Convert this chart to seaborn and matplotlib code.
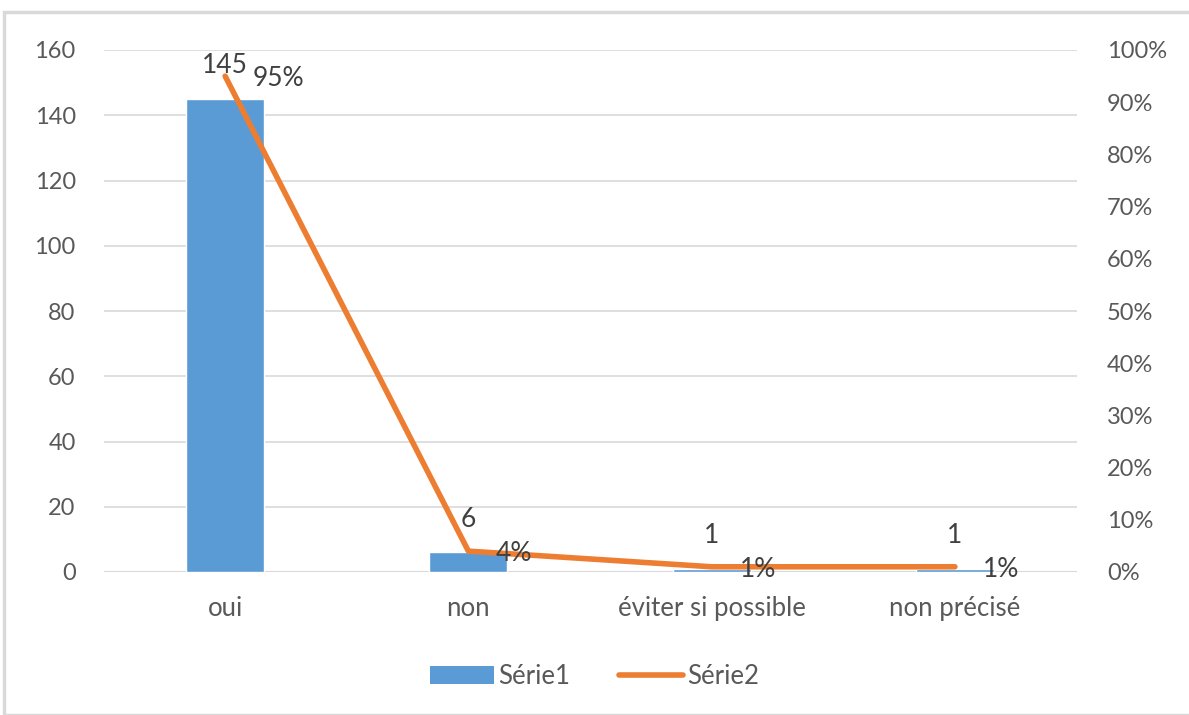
import matplotlib
matplotlib.use("Agg")
import matplotlib.pyplot as plt
import seaborn as sns
import numpy as np
import pandas as pd
from matplotlib.patches import Rectangle, Patch
from matplotlib.lines import Line2D
from matplotlib.ticker import PercentFormatter

# data
categories = ["oui", "non", "éviter si possible", "non précisé"]
serie1 = [145, 6, 1, 1]
serie2 = [0.95, 0.04, 0.01, 0.01]
serie2_labels = ["95%", "4%", "1%", "1%"]

blue = "#5b9bd5"
orange = "#ed7d31"
grey_txt = "#595959"

sns.set_theme(style="white")
plt.rcParams["font.family"] = ["Lato", "DejaVu Sans"]

df = pd.DataFrame({"cat": categories, "Série1": serie1, "Série2": serie2})

fig = plt.figure(figsize=(11.89, 7.15), dpi=100)
fig.subplots_adjust(left=103.5 / 1189, right=1076.5 / 1189, top=1 - 50 / 715, bottom=1 - 572 / 715)
ax = fig.add_subplot(111)

# bars (primary axis)
sns.barplot(data=df, x="cat", y="Série1", color=blue, width=0.32, saturation=1, ax=ax)
ax.set_ylim(0, 160)
ax.set_yticks(range(0, 161, 20))
ax.set_xlim(-0.5, 3.5)
ax.grid(axis="y", color="#d9d9d9", linewidth=1.2)
ax.set_axisbelow(True)
for s in ax.spines.values():
    s.set_visible(False)
ax.axhline(0, color="#d9d9d9", linewidth=1.5, zorder=0.5)
ax.set_xlabel("")
ax.set_ylabel("")
ax.tick_params(axis="y", length=0, labelsize=17, colors=grey_txt, pad=20)
ax.tick_params(axis="x", length=0, labelsize=18.5, colors=grey_txt, pad=17)

for i, v in enumerate(serie1):
    ax.annotate(str(v), (i, v), xytext=(0, 15), textcoords="offset points",
                ha="center", va="bottom", fontsize=19, color="#404040")

# line (secondary axis)
ax2 = ax.twinx()
sns.lineplot(x=np.arange(len(categories)), y=serie2, color=orange, linewidth=4, ax=ax2)
ax2.set_ylim(0, 1)
ax2.set_yticks(np.arange(0, 1.01, 0.1))
ax2.yaxis.set_major_formatter(PercentFormatter(1.0, decimals=0))
for s in ax2.spines.values():
    s.set_visible(False)
ax2.tick_params(axis="y", length=0, labelsize=17, colors=grey_txt, pad=22)
ax2.set_ylabel("")

for i, (v, lab) in enumerate(zip(serie2, serie2_labels)):
    ax2.annotate(lab, (i, v), xytext=(20, -2), textcoords="offset points",
                 ha="left", va="center", fontsize=19, color="#404040")

handles = [Patch(facecolor=blue, edgecolor="none"),
           Line2D([0], [0], color=orange, linewidth=4, solid_capstyle="round")]
fig.legend(handles, ["Série1", "Série2"], loc="center", bbox_to_anchor=(0.5, 1 - 676 / 715),
           ncol=2, frameon=False, fontsize=18.5, labelcolor=grey_txt,
           handlelength=2.5, handletextpad=0.15, columnspacing=1.9)

# chart border like the source
fig.patches.append(Rectangle((4 / 1189, 0), 1.1, 1 - 12 / 715, transform=fig.transFigure,
                             fill=False, edgecolor="#d9d9d9", linewidth=2.5))

fig.savefig("out.png", dpi=100)
